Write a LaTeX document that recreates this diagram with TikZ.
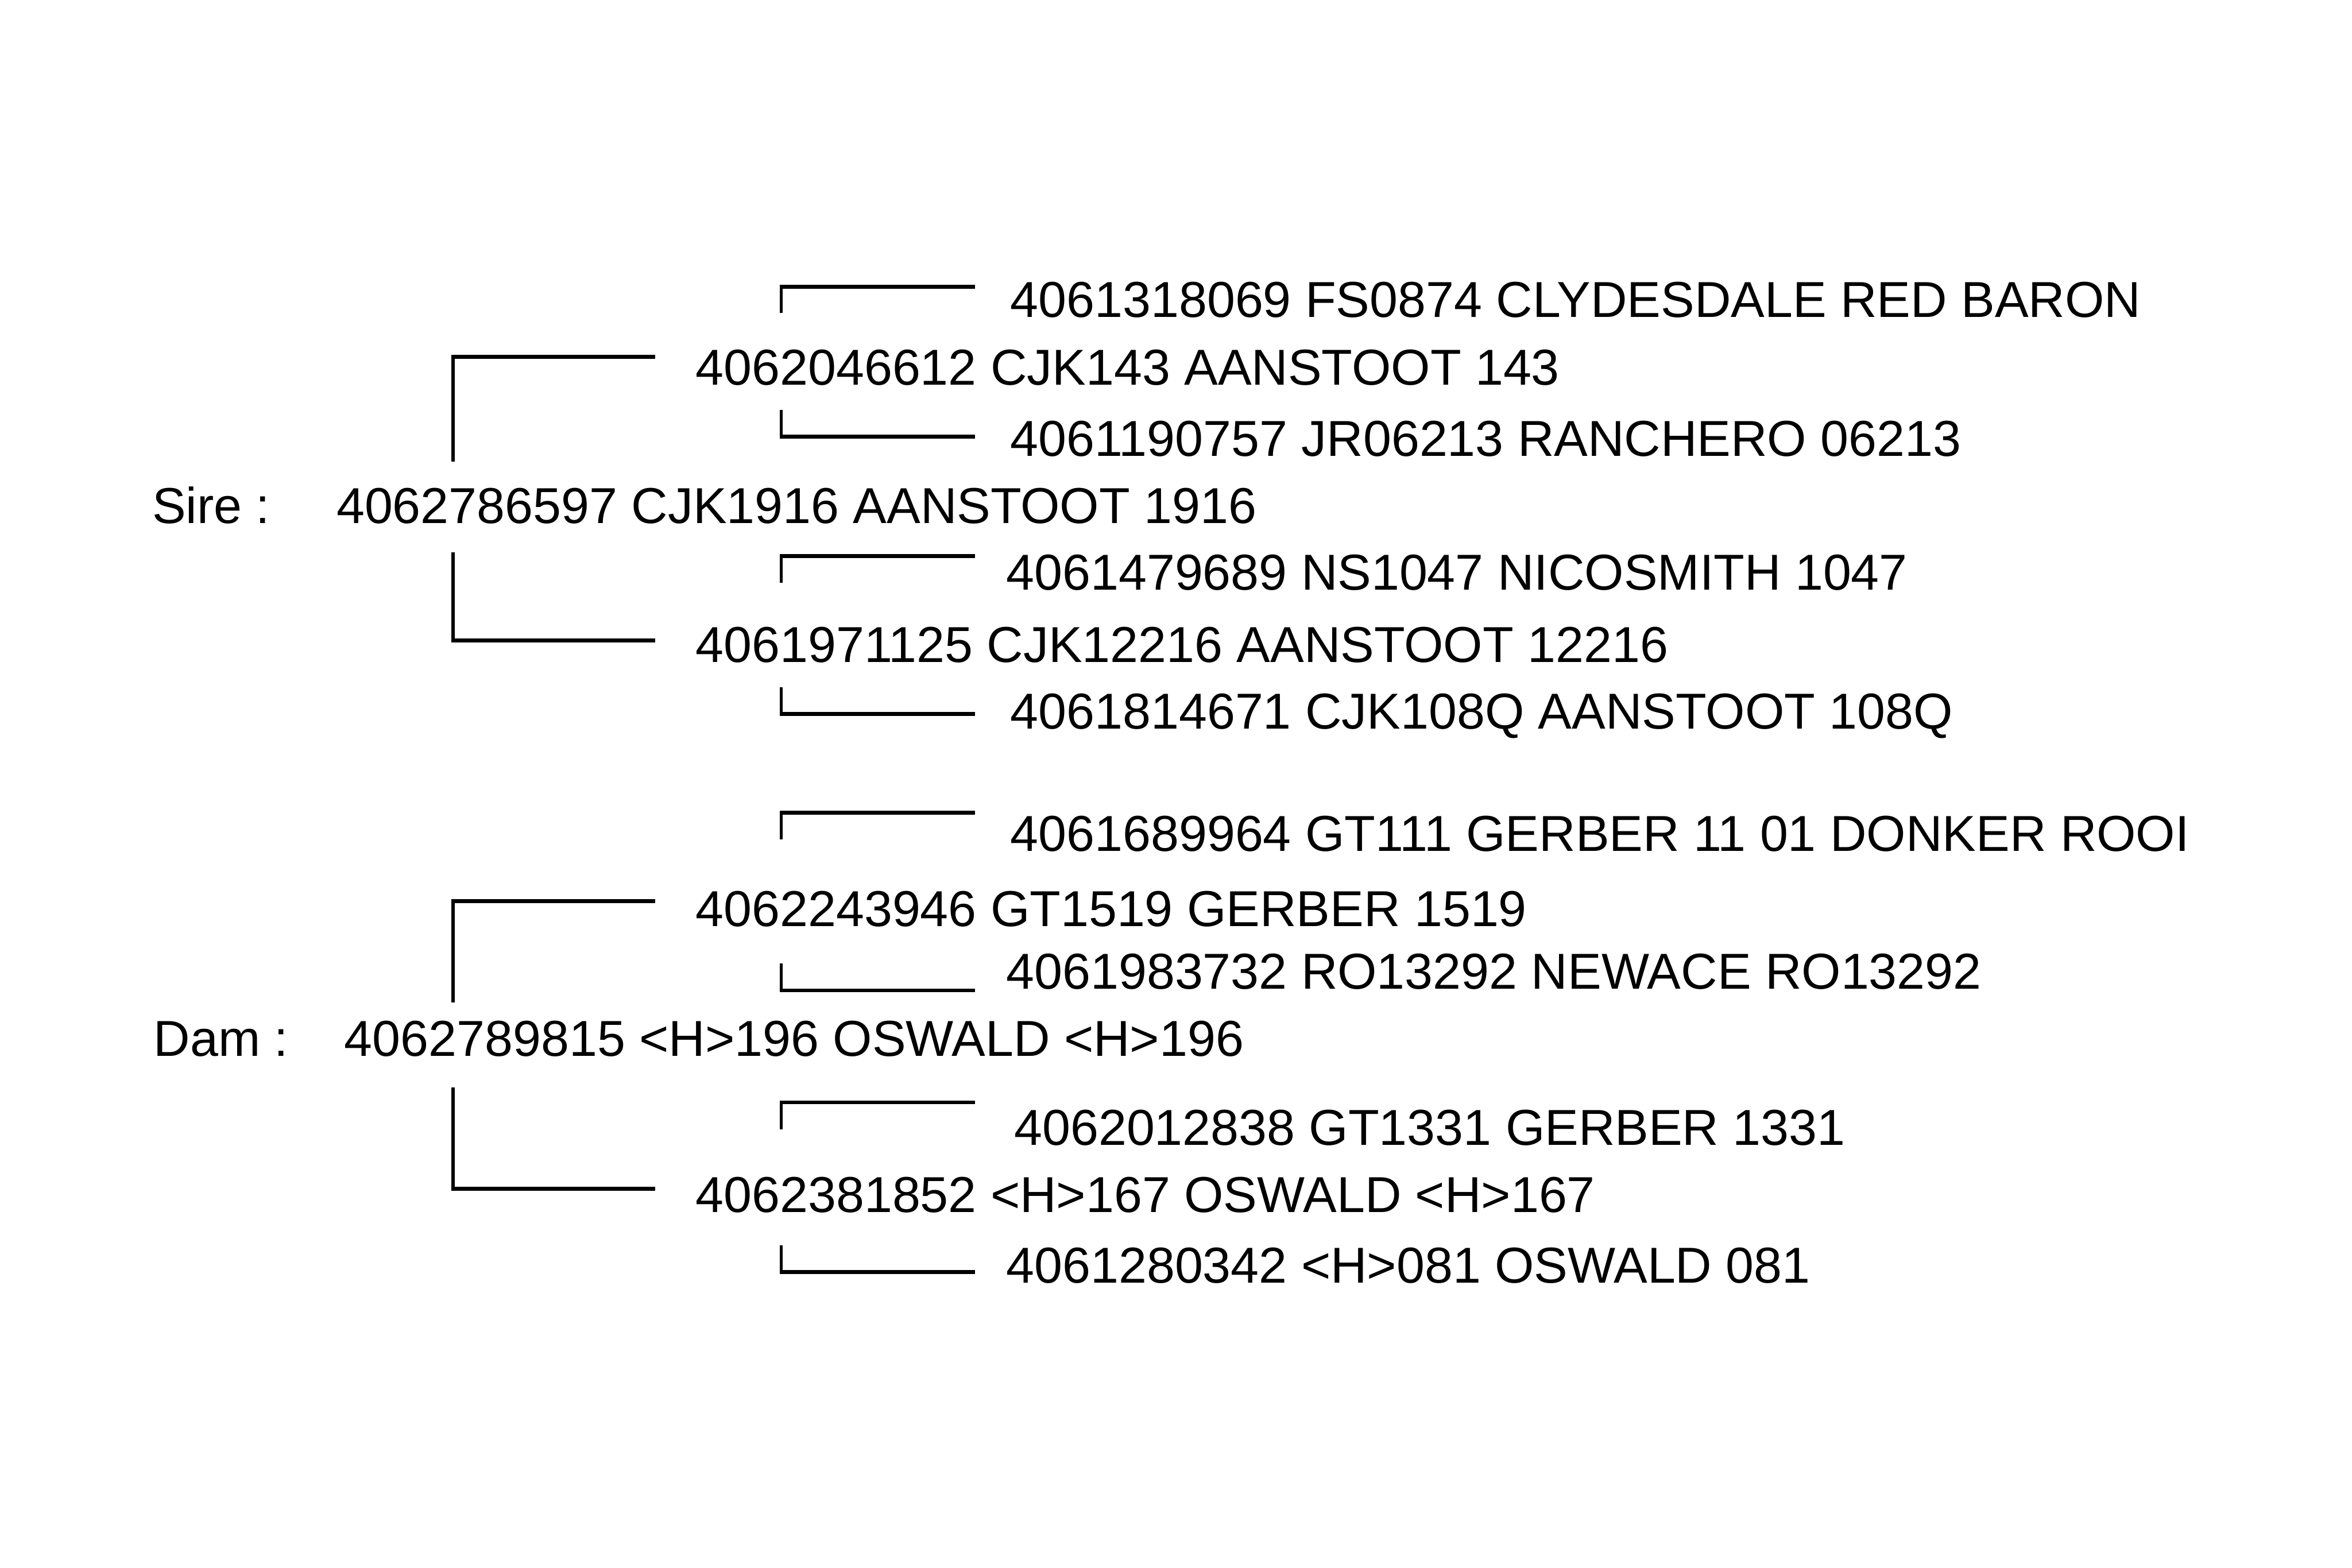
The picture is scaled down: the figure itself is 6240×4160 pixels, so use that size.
\documentclass[tikz,border=0pt]{standalone}
\usepackage{fontspec}
\setmainfont{Liberation Sans}
\newcommand\pedbrk[5]{%
  % #1 name, #2 x of vertical, #3 y of horizontal, #4 x end of horizontal, #5 y free end of vertical
  \coordinate (#1-c) at (#2,#3);
  \coordinate (#1-h) at (#4,#3);
  \coordinate (#1-v) at (#2,#5);
  \draw[hl] ([xshift=-0.4pt]#1-c) -- (#1-h);
  \draw[vl] (#1-c) -- (#1-v);
}
\begin{document}
\begin{tikzpicture}[x={(0.1pt,0)}, y={(0,-0.1pt)},
  hl/.style={line width=1.05pt},
  vl/.style={line width=0.8pt},
  lbl/.style={anchor=base west, inner sep=0pt, xshift=-0.7pt, font=\fontsize{13.4}{15}\selectfont}]
\useasboundingbox (0,0) rectangle (6240,4160);
\fill[white] (0,0) rectangle (6240,4160);

% Sire side
\node[lbl] (sirelbl) at (409,1389) {Sire :};
\node[lbl] (s) at (898,1389) {4062786597 CJK1916 AANSTOOT 1916};
\node[lbl] (ss) at (1851,1021) {4062046612 CJK143 AANSTOOT 143};
\node[lbl] (sd) at (1851,1757) {4061971125 CJK12216 AANSTOOT 12216};
\node[lbl] (sss) at (2686,842) {4061318069 FS0874 CLYDESDALE RED BARON};
\node[lbl] (ssd) at (2686,1211) {4061190757 JR06213 RANCHERO 06213};
\node[lbl] (sds) at (2675,1566) {4061479689 NS1047 NICOSMITH 1047};
\node[lbl] (sdd) at (2686,1934) {4061814671 CJK108Q AANSTOOT 108Q};

% Dam side
\node[lbl] (damlbl) at (413,2803) {Dam :};
\node[lbl] (d) at (919,2803) {4062789815 <H>196 OSWALD <H>196};
\node[lbl] (ds) at (1851,2458) {4062243946 GT1519 GERBER 1519};
\node[lbl] (dd) at (1851,3216) {4062381852 <H>167 OSWALD <H>167};
\node[lbl] (dss) at (2686,2258) {4061689964 GT111 GERBER 11 01 DONKER ROOI};
\node[lbl] (dsd) at (2675,2624) {4061983732 RO13292 NEWACE RO13292};
\node[lbl] (dds) at (2696,3039) {4062012838 GT1331 GERBER 1331};
\node[lbl] (ddd) at (2675,3404) {4061280342 <H>081 OSWALD 081};

% Sire brackets
\pedbrk{bs1}{1202}{947}{1738}{1225}
\pedbrk{bs2}{1202}{1699}{1738}{1466}
\pedbrk{bss1}{2073}{761}{2587}{831}
\pedbrk{bss2}{2073}{1158}{2587}{1087}
\pedbrk{bsd1}{2073}{1476}{2587}{1547}
\pedbrk{bsd2}{2073}{1894}{2587}{1823}

% Dam brackets
\pedbrk{bd1}{1202}{2391}{1738}{2660}
\pedbrk{bd2}{1202}{3154}{1738}{2886}
\pedbrk{bds1}{2073}{2156}{2587}{2227}
\pedbrk{bds2}{2073}{2628}{2587}{2557}
\pedbrk{bdd1}{2073}{2925}{2587}{2996}
\pedbrk{bdd2}{2073}{3375}{2587}{3304}
\end{tikzpicture}
\end{document}
